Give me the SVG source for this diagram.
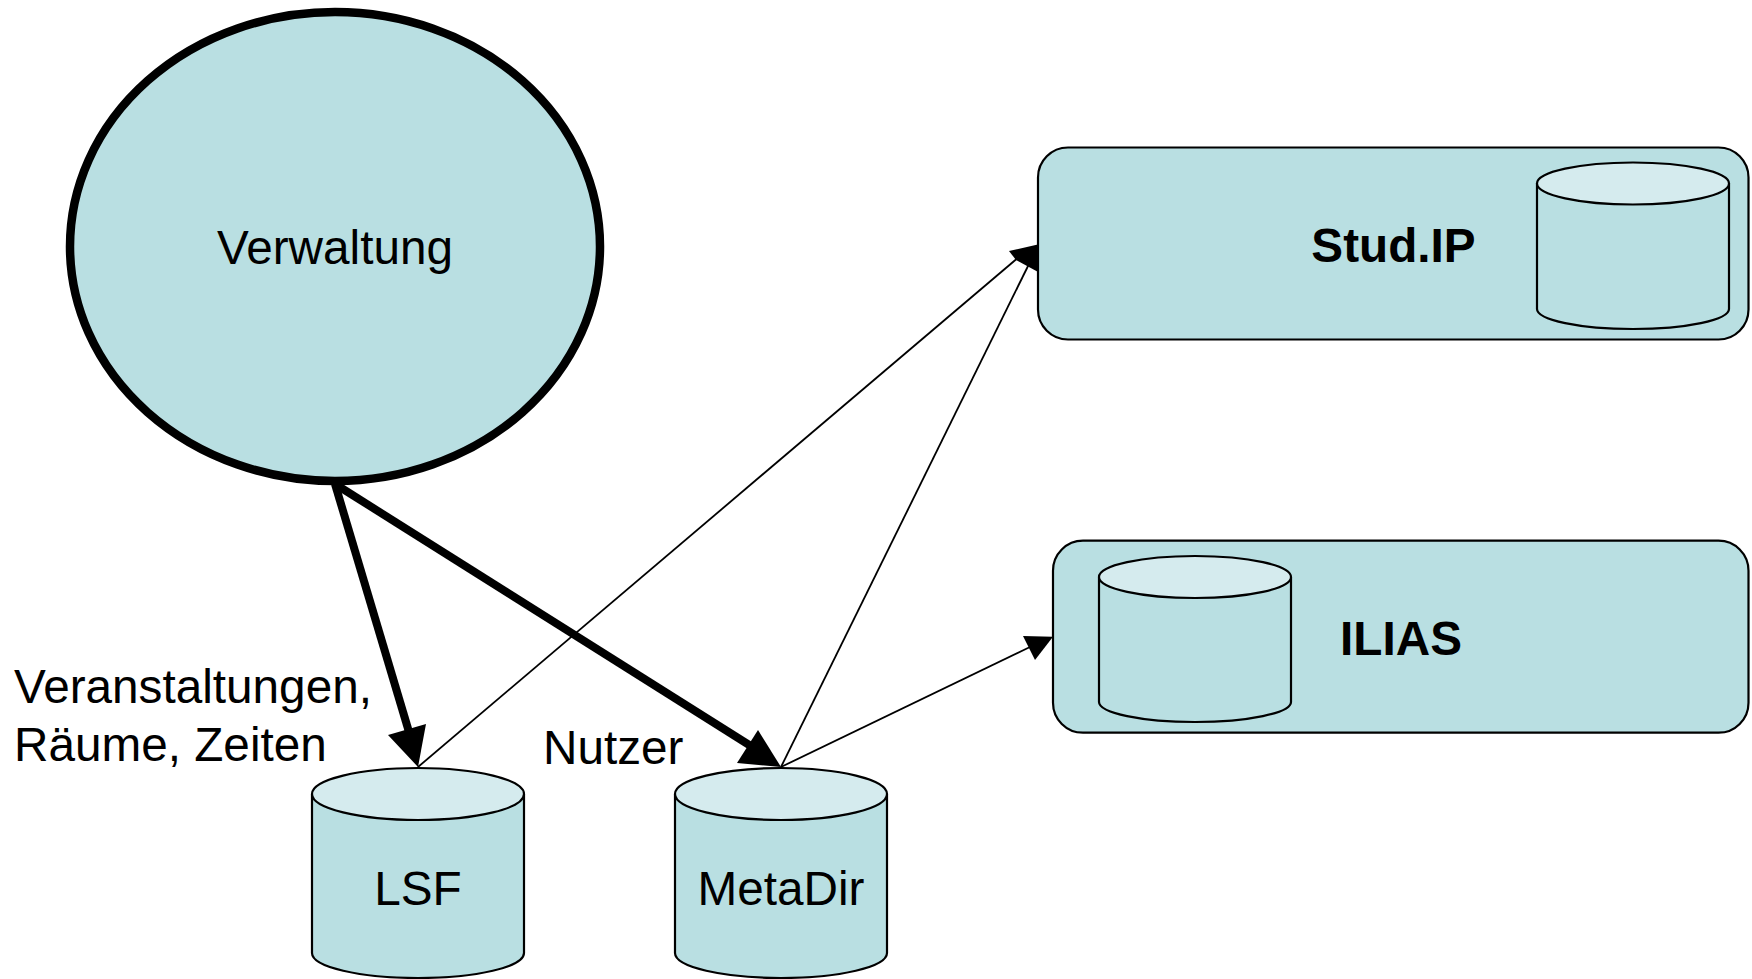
<svg xmlns="http://www.w3.org/2000/svg" width="1752" height="979" viewBox="0 0 1752 979">
<defs>
<style>
.n{fill:#b9dfe2;stroke:#000;stroke-width:2.2}
.t{fill:#d5ebee;stroke:#000;stroke-width:2.2}
text{font-family:"Liberation Sans",Arial,sans-serif;font-size:47.7px;fill:#000}
.m{text-anchor:middle}
.b{font-weight:bold}
.thin{stroke:#000;stroke-width:1.8;fill:none}
.thick{stroke:#000;stroke-width:8;fill:none}
.h{fill:#000;stroke:none}
</style>
</defs>
<rect width="1752" height="979" fill="#fff"/>
<g id="node-verwaltung"><ellipse cx="335" cy="246.5" rx="265" ry="234.5" fill="#b9dfe2" stroke="#000" stroke-width="8.5"/><text class="m" x="335" y="264">Verwaltung</text></g>
<g id="connectors">
<path class="thin" d="M418 767L1020 256"/>
<path class="thin" d="M781 767L1030 262"/>
<path class="thin" d="M781 767L1030 647"/>
<path class="thick" d="M335 484L412 742"/>
<path class="thick" d="M335 484L762 753"/>
<path class="h" d="M418 767L388 735L426 724Z"/>
<path class="h" d="M781 767L737 763L758 730Z"/>
<path class="h" d="M1040 244L1009 251L1016 260L1040 273Z"/>
<path class="h" d="M1053 636.7L1023 636L1035 660Z"/>
</g>
<g id="node-lsf"><path class="n" d="M312 794V953C312 967 360 978 418 978S524 967 524 953V794"/><ellipse class="t" cx="418" cy="794" rx="106" ry="26"/><text class="m" x="418" y="905">LSF</text></g>
<g id="node-metadir"><path class="n" d="M675 794V953C675 967 723 978 781 978S887 967 887 953V794"/><ellipse class="t" cx="781" cy="794" rx="106" ry="26"/><text class="m" x="781" y="905">MetaDir</text></g>
<g id="node-studip"><rect class="n" x="1038" y="147.5" width="710.5" height="192" rx="30"/><text class="m b" x="1393.5" y="262">Stud.IP</text><path class="n" d="M1537 183V309C1537 320 1580 329 1633 329S1729 320 1729 309V183"/><ellipse class="t" cx="1633" cy="183.5" rx="96" ry="21"/></g>
<g id="node-ilias"><rect class="n" x="1053" y="540.7" width="695.5" height="192" rx="30"/><text class="m b" x="1401" y="654.5">ILIAS</text><path class="n" d="M1099 577V702C1099 713 1142 722 1195 722S1291 713 1291 702V577"/><ellipse class="t" cx="1195" cy="577" rx="96" ry="21"/></g>
<g id="labels"><text x="14" y="703">Veranstaltungen,</text><text x="14" y="761">Räume, Zeiten</text><text x="543" y="764">Nutzer</text></g>
</svg>
